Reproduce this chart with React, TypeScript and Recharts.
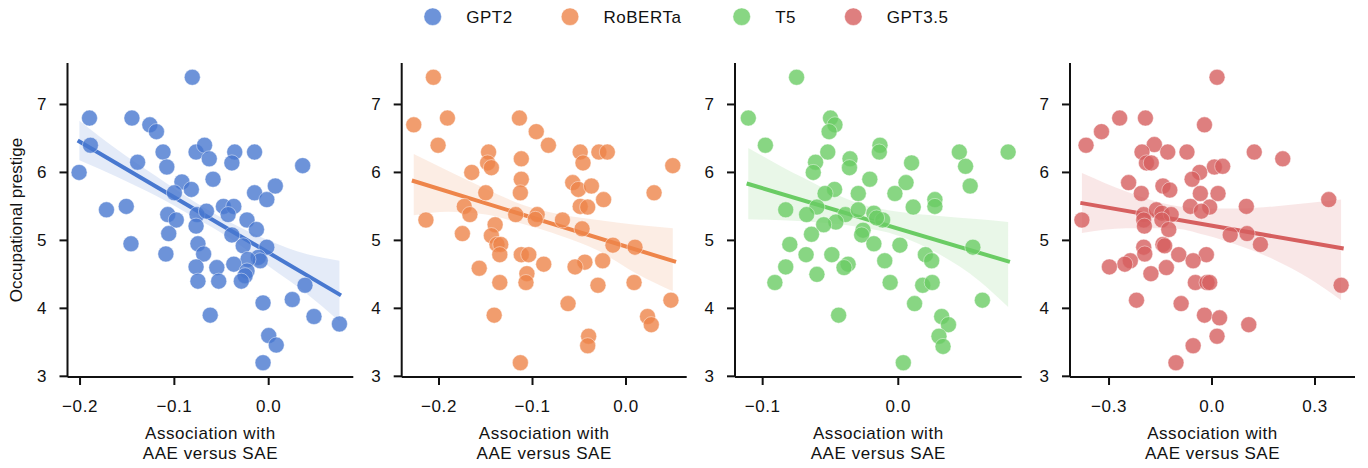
import React from 'react';
import { ComposedChart, XAxis, YAxis, Scatter, Line, Area } from 'recharts';

// ---------- data ----------
const modelNames = ['GPT2', 'RoBERTa', 'T5', 'GPT3.5'];
const modelColors = ['#4878d0', '#ee854a', '#6acc64', '#d65f5f'];

const yTicks = [3, 4, 5, 6, 7];
const yDomain = [2.99, 7.61];

const gpt2Ticks = [-0.2, -0.1, 0.0];
const robertaTicks = [-0.2, -0.1, 0.0];
const t5Ticks = [-0.1, 0.0];
const gpt35Ticks = [-0.3, 0.0, 0.3];

const gpt2Domain = [-0.2133, 0.0897];
const robertaDomain = [-0.2399, 0.0649];
const t5Domain = [-0.1204, 0.091];
const gpt35Domain = [-0.4137, 0.4165];

// [association, prestige]
const gpt2Points = [
  [-0.081, 7.4], [-0.19, 6.8], [-0.145, 6.8], [-0.126, 6.7], [-0.119, 6.6], [-0.189, 6.4],
  [-0.077, 6.3], [-0.068, 6.4], [-0.112, 6.3], [-0.063, 6.2], [-0.036, 6.3], [-0.015, 6.3],
  [-0.139, 6.15], [-0.108, 6.08], [-0.039, 6.14], [0.036, 6.1], [-0.201, 6.0], [-0.059, 5.9],
  [-0.092, 5.86], [-0.082, 5.75], [-0.1, 5.7], [-0.015, 5.7], [0.007, 5.8], [-0.002, 5.6],
  [-0.172, 5.45], [-0.151, 5.5], [-0.107, 5.38], [-0.098, 5.3], [-0.076, 5.38], [-0.066, 5.43],
  [-0.077, 5.21], [-0.048, 5.5], [-0.037, 5.5], [-0.043, 5.38], [-0.039, 5.08], [-0.023, 5.3],
  [-0.013, 5.16], [-0.106, 5.1], [-0.146, 4.95], [-0.075, 4.95], [-0.027, 4.92], [-0.002, 4.9],
  [-0.069, 4.8], [-0.109, 4.8], [-0.011, 4.75], [-0.009, 4.7], [-0.022, 4.72], [-0.077, 4.61],
  [-0.055, 4.6], [-0.037, 4.65], [-0.023, 4.55], [-0.025, 4.48], [-0.075, 4.4], [-0.053, 4.4],
  [-0.029, 4.4], [0.0385, 4.34], [-0.006, 4.08], [0.025, 4.13], [-0.062, 3.9], [0.048, 3.88],
  [0.075, 3.77], [0.0, 3.6], [0.008, 3.46], [-0.006, 3.2],
];

const robertaPoints = [
  [-0.206, 7.4], [-0.227, 6.7], [-0.191, 6.8], [-0.114, 6.8], [-0.096, 6.6], [-0.201, 6.4],
  [-0.083, 6.4], [-0.147, 6.3], [-0.049, 6.3], [-0.029, 6.3], [-0.02, 6.3], [-0.112, 6.2],
  [-0.148, 6.14], [-0.144, 6.07], [-0.046, 6.14], [0.05, 6.1], [-0.165, 6.0], [-0.112, 5.9],
  [-0.057, 5.85], [-0.051, 5.75], [-0.113, 5.7], [-0.15, 5.7], [0.03, 5.7], [-0.037, 5.8],
  [-0.024, 5.6], [-0.214, 5.3], [-0.173, 5.5], [-0.167, 5.38], [-0.118, 5.38], [-0.095, 5.38],
  [-0.097, 5.31], [-0.068, 5.3], [-0.049, 5.5], [-0.041, 5.49], [-0.047, 5.17], [-0.14, 5.23],
  [-0.144, 5.07], [-0.175, 5.1], [-0.138, 4.94], [-0.134, 4.94], [-0.014, 4.93], [0.0096, 4.9],
  [-0.135, 4.79], [-0.112, 4.79], [-0.104, 4.79], [-0.025, 4.7], [-0.044, 4.68], [-0.157, 4.59],
  [-0.088, 4.65], [-0.0545, 4.61], [-0.106, 4.51], [-0.107, 4.38], [-0.135, 4.38], [-0.03, 4.34],
  [0.0086, 4.38], [0.048, 4.12], [-0.062, 4.07], [-0.141, 3.9], [0.023, 3.88], [0.027, 3.76],
  [-0.04, 3.59], [-0.041, 3.45], [-0.113, 3.2],
];

const t5Points = [
  [-0.075, 7.4], [-0.1106, 6.8], [-0.05, 6.8], [-0.0467, 6.7], [-0.051, 6.6], [-0.098, 6.4],
  [-0.0135, 6.4], [-0.052, 6.3], [-0.014, 6.3], [0.045, 6.3], [0.081, 6.3], [-0.0356, 6.2],
  [-0.061, 6.15], [-0.036, 6.07], [0.0098, 6.14], [0.0496, 6.09], [-0.0627, 6.0], [-0.021, 5.9],
  [0.0057, 5.85], [-0.047, 5.75], [-0.054, 5.69], [-0.0295, 5.69], [0.053, 5.8], [-0.0025, 5.69],
  [0.027, 5.6], [-0.083, 5.45], [-0.06, 5.49], [-0.0676, 5.38], [-0.039, 5.38], [-0.0295, 5.45],
  [-0.018, 5.4], [-0.0115, 5.3], [0.011, 5.49], [0.027, 5.5], [-0.016, 5.33], [-0.046, 5.27],
  [-0.055, 5.23], [-0.026, 5.15], [-0.027, 5.08], [-0.064, 5.09], [-0.08, 4.94], [-0.018, 4.95],
  [0.0012, 4.93], [0.055, 4.9], [-0.068, 4.79], [-0.049, 4.79], [0.02, 4.79], [0.0246, 4.7],
  [-0.01, 4.7], [-0.083, 4.61], [-0.037, 4.65], [-0.04, 4.6], [-0.06, 4.5], [-0.091, 4.38],
  [-0.006, 4.38], [0.018, 4.34], [0.025, 4.38], [0.062, 4.12], [0.012, 4.07], [-0.044, 3.9],
  [0.032, 3.88], [0.037, 3.76], [0.03, 3.59], [0.033, 3.44], [0.0037, 3.2],
];

const gpt35Points = [
  [0.0146, 7.4], [-0.269, 6.8], [-0.194, 6.8], [-0.322, 6.6], [-0.022, 6.7], [-0.367, 6.4],
  [-0.168, 6.41], [-0.204, 6.3], [-0.129, 6.3], [-0.073, 6.3], [0.123, 6.3], [0.206, 6.2],
  [-0.191, 6.14], [-0.177, 6.14], [0.0068, 6.08], [0.031, 6.09], [-0.036, 6.0], [-0.058, 5.9],
  [-0.243, 5.85], [-0.143, 5.8], [-0.123, 5.74], [-0.206, 5.69], [-0.034, 5.69], [0.0175, 5.69],
  [0.34, 5.6], [-0.379, 5.3], [-0.199, 5.38], [-0.162, 5.45], [-0.146, 5.4], [-0.063, 5.5],
  [-0.0068, 5.49], [-0.031, 5.43], [0.1, 5.5], [-0.199, 5.3], [-0.119, 5.38], [-0.146, 5.3],
  [-0.197, 5.21], [-0.126, 5.16], [0.053, 5.08], [0.102, 5.1], [0.141, 4.94], [-0.143, 4.94],
  [-0.138, 4.92], [-0.199, 4.9], [-0.196, 4.8], [-0.097, 4.79], [-0.0165, 4.79], [-0.055, 4.7],
  [-0.238, 4.7], [-0.254, 4.65], [-0.299, 4.61], [-0.133, 4.6], [-0.178, 4.51], [-0.0485, 4.38],
  [-0.0146, 4.38], [-0.0068, 4.38], [0.376, 4.34], [-0.22, 4.12], [-0.09, 4.07], [-0.022, 3.9],
  [0.022, 3.86], [0.107, 3.76], [0.0146, 3.59], [-0.055, 3.45], [-0.105, 3.2],
];

// regression line end points [x, y]
const gpt2Fit = [[-0.2025, 6.471], [0.0767, 4.191]];
const robertaFit = [[-0.229, 5.881], [0.0535, 4.683]];
const t5Fit = [[-0.1118, 5.837], [0.0823, 4.683]];
const gpt35Fit = [[-0.3835, 5.552], [0.3835, 4.88]];

// confidence band [x, low, high]
const gpt2Band = [
  [-0.2007, 6.18, 6.76], [-0.16, 5.93, 6.33], [-0.12, 5.66, 5.95], [-0.08, 5.35, 5.58],
  [-0.04, 5.02, 5.26], [0.0, 4.62, 5.0], [0.04, 4.22, 4.8], [0.075, 3.81, 4.7],
];
const robertaBand = [
  [-0.227, 5.37, 6.27], [-0.19, 5.42, 6.02], [-0.15, 5.38, 5.76], [-0.11, 5.24, 5.52],
  [-0.07, 5.07, 5.38], [-0.03, 4.85, 5.3], [0.01, 4.52, 5.23], [0.05, 4.25, 5.18],
];
const t5Band = [
  [-0.1106, 5.31, 6.36], [-0.07, 5.28, 5.92], [-0.03, 5.2, 5.55], [0.0, 5.07, 5.42],
  [0.03, 4.8, 5.36], [0.06, 4.4, 5.31], [0.081, 4.02, 5.27],
];
const gpt35Band = [
  [-0.379, 5.11, 5.99], [-0.25, 5.18, 5.72], [-0.12, 5.18, 5.52], [-0.02, 5.08, 5.47],
  [0.08, 4.92, 5.47], [0.18, 4.72, 5.5], [0.28, 4.45, 5.55], [0.376, 4.12, 5.6],
];

const xLabelLines = ['Association with', 'AAE versus SAE'];
const yLabelText = 'Occupational prestige';

// ---------- layout ----------
const W = 1368;
const H = 468;
const PLOT_TOP = 63;
const PLOT_BOTTOM = 377;
const Y_AXIS_W = 50;
const X_AXIS_H = 30;
const FONT = '"Liberation Sans", Arial, Helvetica, sans-serif';
const INK = '#111';

const panels = [
  { points: gpt2Points, fit: gpt2Fit, band: gpt2Band, ticks: gpt2Ticks, domain: gpt2Domain, left: 67.5, right: 353.3 },
  { points: robertaPoints, fit: robertaFit, band: robertaBand, ticks: robertaTicks, domain: robertaDomain, left: 401.7, right: 686.7 },
  { points: t5Points, fit: t5Fit, band: t5Band, ticks: t5Ticks, domain: t5Domain, left: 735, right: 1021.7 },
  { points: gpt35Points, fit: gpt35Fit, band: gpt35Band, ticks: gpt35Ticks, domain: gpt35Domain, left: 1070, right: 1355 },
];

const legendX = [432.7, 570, 741.7, 853.3];

const fmt = (v: number) => {
  const s = Math.abs(v) < 1e-9 ? '0.0' : v.toFixed(1);
  return s.replace('-', '\u2212');
};

const XLabel = (props: any) => {
  const vb = props.viewBox || {};
  const cx = (vb.x ?? 0) + (vb.width ?? 0) / 2;
  const y0 = (vb.y ?? PLOT_BOTTOM) + 61.5;
  return (
    <text x={cx} y={y0} textAnchor="middle" fontSize={17} fill={INK} style={{ letterSpacing: '0.55px' }}>
      <tspan x={cx} y={y0}>{xLabelLines[0]}</tspan>
      <tspan x={cx} y={y0 + 20}>{xLabelLines[1]}</tspan>
    </text>
  );
};

const YLabel = (props: any) => {
  const vb = props.viewBox || {};
  const cy = (vb.y ?? PLOT_TOP) + (vb.height ?? 0) / 2;
  const bx = 22;
  return (
    <text x={bx} y={cy} textAnchor="middle" fontSize={17} fill={INK} transform={`rotate(-90, ${bx}, ${cy})`}>
      {yLabelText}
    </text>
  );
};

const Dot = (color: string) => (props: any) => {
  const { cx, cy } = props;
  if (cx == null || cy == null) return <g />;
  return (
    <circle cx={cx} cy={cy} r={8} fill={color} fillOpacity={0.8} stroke="#ffffff" strokeOpacity={0.55} strokeWidth={0.8} />
  );
};

function Panel({ idx }: { idx: number }) {
  const p = panels[idx];
  const color = modelColors[idx];
  const pts = p.points.map(([x, y]) => ({ x, y }));
  const fit = p.fit.map(([x, y]) => ({ x, y }));
  const band = p.band.map(([x, lo, hi]) => ({ x, band: [lo, hi] }));
  return (
    <div style={{ position: 'absolute', left: 0, top: 0 }}>
      <ComposedChart
        width={W}
        height={H}
        margin={{ top: PLOT_TOP, right: W - p.right, bottom: H - PLOT_BOTTOM - X_AXIS_H, left: p.left - Y_AXIS_W }}
      >
        <XAxis
          type="number"
          dataKey="x"
          domain={p.domain}
          ticks={p.ticks}
          interval={0}
          allowDataOverflow
          height={X_AXIS_H}
          tickFormatter={fmt}
          axisLine={{ stroke: INK, strokeWidth: 2 }}
          tickLine={{ stroke: INK, strokeWidth: 2 }}
          tickSize={8}
          tickMargin={15}
          tick={{ fill: INK, fontSize: 17, letterSpacing: '0.6px' }}
          label={<XLabel />}
        />
        <YAxis
          type="number"
          dataKey="y"
          domain={yDomain}
          ticks={yTicks}
          interval={0}
          allowDataOverflow
          width={Y_AXIS_W}
          axisLine={{ stroke: INK, strokeWidth: 2 }}
          tickLine={{ stroke: INK, strokeWidth: 2 }}
          tickSize={8}
          tickMargin={13}
          tick={{ fill: INK, fontSize: 17 }}
          label={idx === 0 ? <YLabel /> : undefined}
        />
        <Scatter data={pts} fill={color} shape={Dot(color)} isAnimationActive={false} />
        <Area data={band} dataKey="band" type="monotone" fill={color} fillOpacity={0.15} stroke="none" isAnimationActive={false} />
        <Line data={fit} dataKey="y" type="linear" stroke={color} strokeWidth={4} dot={false} activeDot={false} isAnimationActive={false} />
      </ComposedChart>
    </div>
  );
}

export default function App() {
  return (
    <div style={{ position: 'fixed', left: 0, top: 0, width: W, height: H, background: '#fff', fontFamily: FONT, overflow: 'hidden' }}>
      {panels.map((_, i) => (
        <Panel key={i} idx={i} />
      ))}
      <svg width={W} height={40} style={{ position: 'absolute', left: 0, top: 0 }}>
        {modelNames.map((name, i) => (
          <g key={name}>
            <circle cx={legendX[i]} cy={16.7} r={8.8} fill={modelColors[i]} fillOpacity={0.8} stroke="#fff" strokeOpacity={0.55} strokeWidth={0.8} />
            <text x={legendX[i] + 33.5} y={22.7} fontSize={17} fill={INK} style={{ letterSpacing: '0.5px' }}>
              {name}
            </text>
          </g>
        ))}
      </svg>
    </div>
  );
}
